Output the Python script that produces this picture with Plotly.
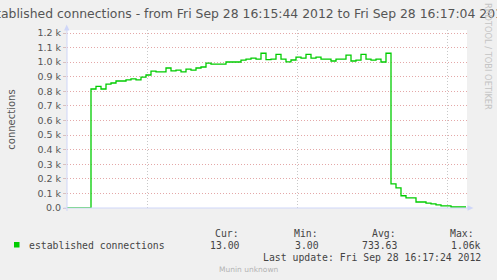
import numpy as np
import pandas as pd
import plotly.graph_objects as go

# ---- data ----
series_name = "established connections"
start_time = "2012-09-28 16:15:43.8"   # first sample start
step_seconds = 1
connections = [0, 0, 0, 0, 0,
               816, 834, 816, 850, 857, 871, 871, 878, 885, 878,
               898, 912, 939, 933, 933, 960, 940, 946, 933, 952,
               946, 960, 967, 994, 987, 987, 987, 1001, 1001, 1001,
               1014, 1021, 1028, 1021, 1061, 1017, 1021, 1054, 1021, 1002,
               1015, 1034, 1028, 1054, 1028, 1034, 1021, 1021, 1008, 1021,
               1021, 1048, 1008, 1014, 1054, 1021, 1014, 1021, 1001, 1061,
               166, 138, 84, 69, 69, 41, 41, 34, 28, 21,
               14, 14, 7, 7, 7]
x_range = ["2012-09-28 16:15:44", "2012-09-28 16:17:04"]
y_tick_values = [0, 100, 200, 300, 400, 500, 600, 700, 800, 900, 1000, 1100, 1200]
y_tick_labels = ["0.0", "0.1 k", "0.2 k", "0.3 k", "0.4 k", "0.5 k", "0.6 k",
                 "0.7 k", "0.8 k", "0.9 k", "1.0 k", "1.1 k", "1.2 k"]
title_text = "established connections - from Fri Sep 28 16:15:44 2012 to Fri Sep 28 16:17:04 2012"
stat_headers = ["Cur:", "Min:", "Avg:", "Max:"]
stat_values = ["13.00", " 3.00", "733.63", " 1.06k"]
last_update = "Last update: Fri Sep 28 16:17:24 2012"

# ---- build ----
times = pd.date_range(start=start_time, periods=len(connections) + 1, freq=f"{step_seconds}s")
xs = list(times)
ys = connections + [connections[-1]]

W, H = 497, 280
L, R, T, B = 67, 30, 30, 72
PW, PH = W - L - R, H - T - B


def px(x):
    return (x - L) / PW


def py(y):
    return (H - B - y) / PH


fig = go.Figure()
fig.add_trace(go.Scatter(x=xs, y=ys, mode="lines", line=dict(color="#00CC00", width=1.3, shape="hv"),
                         hoverinfo="skip", showlegend=False))

axis_col = "#CFD6F8"
fig.update_layout(
    width=W, height=H,
    margin=dict(l=L, r=R, t=T, b=B, pad=0),
    paper_bgcolor="#F0F0F0", plot_bgcolor="#FFFFFF",
    showlegend=False,
    xaxis=dict(type="date", range=x_range, showticklabels=False,
               tick0="2012-09-28 16:16:00", dtick=30000,
               showgrid=True, gridcolor="#c8c8c8", griddash="1px,2px", gridwidth=1,
               showline=False, zeroline=False, ticks=""),
    yaxis=dict(range=[0, PH / 0.145833], tickvals=y_tick_values, ticktext=y_tick_labels,
               showgrid=True, gridcolor="#e4a8a8", griddash="1px,2px", gridwidth=1,
               zeroline=False, showline=False, ticks="outside", ticklen=3, tickcolor="#d8c0c0",
               tickfont=dict(family="DejaVu Sans", size=9.5, color="#555555")),
)

# axis lines and arrows
fig.add_shape(type="line", xref="paper", yref="paper", x0=px(63.5), x1=px(469), y0=0, y1=0,
              line=dict(color=axis_col, width=1))
fig.add_shape(type="line", xref="paper", yref="paper", x0=0, x1=0, y0=py(211), y1=py(27),
              line=dict(color=axis_col, width=1))
fig.add_shape(type="path", xref="paper", yref="paper",
              path=f"M {px(64)} {py(30.5)} L {px(69.5)} {py(30.5)} L {px(66.7)} {py(24.5)} Z",
              fillcolor=axis_col, line=dict(width=0))
fig.add_shape(type="path", xref="paper", yref="paper",
              path=f"M {px(467.5)} {py(205.3)} L {px(467.5)} {py(210.8)} L {px(473.5)} {py(208)} Z",
              fillcolor=axis_col, line=dict(width=0))

ann = []
ann.append(dict(text=title_text, x=px(246), y=py(13), xref="paper", yref="paper",
                showarrow=False, xanchor="center", yanchor="middle",
                font=dict(family="DejaVu Sans", size=12.4, color="#555555")))
ann.append(dict(text="connections", x=px(10.7), y=py(120), xref="paper", yref="paper",
                showarrow=False, textangle=-90, xanchor="center", yanchor="middle",
                font=dict(family="DejaVu Sans", size=10, color="#555555")))
ann.append(dict(text="RRDTOOL / TOBI OETIKER", x=px(488), y=py(56), xref="paper", yref="paper",
                showarrow=False, textangle=90, xanchor="center", yanchor="middle",
                font=dict(family="DejaVu Sans", size=8.3, color="#c4c4c4")))
mono = dict(family="DejaVu Sans Mono", size=9.8, color="#444444")
ann.append(dict(text=series_name, x=px(26.5), y=py(245.7), xref="paper", yref="paper",
                showarrow=False, xanchor="left", yanchor="middle", font=mono))
head_x = [212.7, 291.7, 370.0, 447.7]
for hx, h, v in zip(head_x, stat_headers, stat_values):
    ann.append(dict(text=h, x=px(hx), y=py(234), xref="paper", yref="paper",
                    showarrow=False, xanchor="left", yanchor="middle", font=mono))
val_right = [242.3, 321.0, 399.0, 483.3]
for vx, v in zip(val_right, stat_values):
    ann.append(dict(text=v.strip(), x=px(vx), y=py(245.7), xref="paper", yref="paper",
                    showarrow=False, xanchor="right", yanchor="middle", font=mono))
ann.append(dict(text=last_update, x=px(483.3), y=py(257.3), xref="paper", yref="paper",
                showarrow=False, xanchor="right", yanchor="middle", font=mono))
ann.append(dict(text="Munin unknown", x=px(248.5), y=py(269.3), xref="paper", yref="paper",
                showarrow=False, xanchor="center", yanchor="middle",
                font=dict(family="DejaVu Sans", size=7.5, color="#b4b4b4")))
fig.update_layout(annotations=ann)

# legend swatch
fig.add_shape(type="rect", xref="paper", yref="paper", x0=px(14), x1=px(19.5), y0=py(247.5), y1=py(242),
              fillcolor="#00CC00", line=dict(width=0))

fig.write_html("out.html")
